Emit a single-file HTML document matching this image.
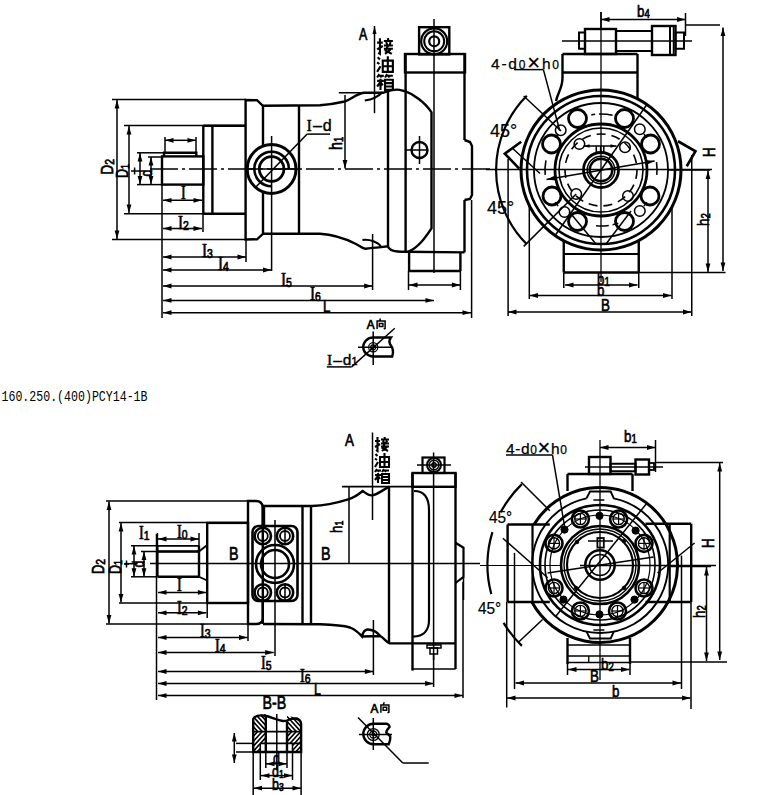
<!DOCTYPE html>
<html><head><meta charset="utf-8"><style>
html,body{margin:0;padding:0;background:#fff;}
svg{display:block;}
</style></head><body>
<svg width="764" height="795" viewBox="0 0 764 795" stroke="#000" stroke-linecap="butt" fill="none">
<line x1="112" y1="99.5" x2="246" y2="99.5" stroke-width="1.5"/>
<line x1="112" y1="239.5" x2="246" y2="239.5" stroke-width="1.5"/>
<line x1="117" y1="100" x2="117" y2="239" stroke-width="1.5"/>
<polygon points="117.0,100.0 119.4,108.5 114.6,108.5" stroke="none" fill="#000"/>
<polygon points="117.0,239.0 114.6,230.5 119.4,230.5" stroke="none" fill="#000"/>
<text x="0" y="0" transform="translate(113 174.5) rotate(-90) scale(0.78 1)" font-size="17.1" font-family="Liberation Sans" stroke="#000" stroke-width="0.7" fill="#000">D<tspan font-size="13.4" font-family="Liberation Sans" dy="1">2</tspan></text>
<line x1="124" y1="125.5" x2="245" y2="125.5" stroke-width="1.5"/>
<line x1="124" y1="213.8" x2="245" y2="213.8" stroke-width="1.5"/>
<line x1="129" y1="126" x2="129" y2="213" stroke-width="1.5"/>
<polygon points="129.0,126.0 131.4,134.5 126.6,134.5" stroke="none" fill="#000"/>
<polygon points="129.0,213.0 126.6,204.5 131.4,204.5" stroke="none" fill="#000"/>
<text x="0" y="0" transform="translate(128 178) rotate(-90) scale(0.78 1)" font-size="15.9" font-family="Liberation Sans" stroke="#000" stroke-width="0.7" fill="#000">D<tspan font-size="11.0" font-family="Liberation Sans" dy="1">1</tspan></text>
<line x1="137" y1="152.8" x2="165" y2="152.8" stroke-width="1.5"/>
<line x1="137" y1="184.6" x2="162" y2="184.6" stroke-width="1.5"/>
<line x1="148" y1="157" x2="162" y2="157" stroke-width="1.5"/>
<line x1="140" y1="153" x2="140" y2="184.6" stroke-width="1.5"/>
<polygon points="140.0,153.0 142.4,161.5 137.6,161.5" stroke="none" fill="#000"/>
<polygon points="140.0,184.6 137.6,176.1 142.4,176.1" stroke="none" fill="#000"/>
<line x1="151" y1="157" x2="151" y2="184.6" stroke-width="1.5"/>
<polygon points="151.0,157.0 153.4,165.5 148.6,165.5" stroke="none" fill="#000"/>
<polygon points="151.0,184.6 148.6,176.1 153.4,176.1" stroke="none" fill="#000"/>
<line x1="131" y1="171" x2="140" y2="171" stroke-width="1.5"/>
<line x1="134.6" y1="167.5" x2="134.6" y2="174.5" stroke-width="1.5"/>
<text x="0" y="0" transform="translate(152 176.5) rotate(-90) scale(0.78 1)" font-size="15.9" font-family="Liberation Sans" text-anchor="start" letter-spacing="0" stroke="#000" stroke-width="0.7" fill="#000">d</text>
<rect x="162" y="156.4" width="41.30000000000001" height="28.19999999999999" fill="none" stroke-width="2.4"/>
<path d="M164,156.4 L164,152.8 L196.3,152.8 L196.3,156.4" fill="none" stroke-width="2.4"/>
<line x1="165" y1="140.3" x2="196" y2="140.3" stroke-width="1.5"/>
<polygon points="165.0,140.3 173.5,137.9 173.5,142.7" stroke="none" fill="#000"/>
<polygon points="196.0,140.3 187.5,142.7 187.5,137.9" stroke="none" fill="#000"/>
<line x1="165" y1="137" x2="165" y2="152" stroke-width="1.5"/>
<line x1="196" y1="137" x2="196" y2="152" stroke-width="1.5"/>
<line x1="163" y1="200.3" x2="202" y2="200.3" stroke-width="1.5"/>
<polygon points="163.0,200.3 171.5,197.9 171.5,202.7" stroke="none" fill="#000"/>
<polygon points="202.0,200.3 193.5,202.7 193.5,197.9" stroke="none" fill="#000"/>
<text x="0" y="0" transform="translate(183.5 199) scale(0.78 1)" font-size="18.3" font-family="Liberation Serif" text-anchor="middle" letter-spacing="0" stroke="#000" stroke-width="0.7" fill="#000">I</text>
<line x1="203.3" y1="125.8" x2="203.3" y2="213.8" stroke-width="2.4"/>
<line x1="212.4" y1="125.8" x2="212.4" y2="213.8" stroke-width="2.4"/>
<line x1="203.3" y1="125.8" x2="245.6" y2="125.8" stroke-width="2.4"/>
<line x1="203.3" y1="213.8" x2="245.6" y2="213.8" stroke-width="2.4"/>
<line x1="163" y1="228.5" x2="202" y2="228.5" stroke-width="1.5"/>
<polygon points="163.0,228.5 171.5,226.1 171.5,230.9" stroke="none" fill="#000"/>
<polygon points="202.0,228.5 193.5,230.9 193.5,226.1" stroke="none" fill="#000"/>
<line x1="203" y1="214" x2="203" y2="232" stroke-width="1.5"/>
<text x="0" y="0" transform="translate(178 229) scale(0.78 1)" font-size="19.5" font-family="Liberation Serif" stroke="#000" stroke-width="0.7" fill="#000">I<tspan font-size="13.4" font-family="Liberation Sans" dy="1">2</tspan></text>
<line x1="162" y1="184.6" x2="162" y2="318" stroke-width="1.5"/>
<path d="M263,145 L263,106 L257,100.2 L245.6,100 L245.6,239.5 L257,239.3 L263,233.8 L263,193" fill="none" stroke-width="2.4"/>
<path d="M263,105.7 L320,105.3 C332,104.5 340,102.5 345,101.4 C352,99 356,94 364,92.8 L383,92.8 C388,91 392,89.6 397,89.6 C400,89.6 402,90.5 405,91.2 C413,94 425,102 431.5,112.4 L431.5,228.3 C425,238 418,248 408,251.8" fill="none" stroke-width="2.4"/>
<path d="M263,233.8 L320,233.8 C335,234.5 348,240 356,244 C360,246 363,248.7 365.5,248.7 C370,248 376,247.5 381.3,247.1 L387.5,246.3 C389,248 390,250 392.2,250.3 C396,251.5 400,251.8 405,251.8 L464.5,252.4" fill="none" stroke-width="2.4"/>
<line x1="299" y1="105.7" x2="299" y2="234" stroke-width="2.4"/>
<line x1="388" y1="90" x2="388" y2="247" stroke-width="2.4"/>
<circle cx="271.6" cy="169" r="24.4" fill="none" stroke-width="3"/>
<path d="M288.9,169 A17.3,17.3 0 1 0 271.6,186.3" fill="none" stroke-width="2.6"/>
<circle cx="271.6" cy="169" r="12.3" fill="none" stroke-width="2.8"/>
<line x1="245" y1="169" x2="300" y2="169" stroke-width="1.5"/>
<line x1="271.6" y1="136" x2="271.6" y2="271" stroke-width="1.5"/>
<line x1="254.9" y1="188" x2="307.2" y2="134.1" stroke-width="1.5"/>
<line x1="307.2" y1="134.1" x2="330" y2="134.1" stroke-width="1.5"/>
<text x="306.6" y="131.2" font-size="16" font-family="Liberation Serif" stroke="#000" stroke-width="0.4" fill="#000">I<tspan font-family="Liberation Sans" dx="1">–</tspan><tspan font-family="Liberation Sans" dx="1">d</tspan></text>
<line x1="150" y1="169" x2="490" y2="169" stroke-width="1.5" stroke-dasharray="28,4,3,4"/>
<line x1="345" y1="95" x2="345" y2="168.5" stroke-width="1.5"/>
<polygon points="345.0,168.5 342.6,160.0 347.4,160.0" stroke="none" fill="#000"/>
<line x1="338.8" y1="92.8" x2="383" y2="92.8" stroke-width="1.5"/>
<text x="0" y="0" transform="translate(342 150) rotate(-90) scale(0.78 1)" font-size="18.3" font-family="Liberation Sans" stroke="#000" stroke-width="0.7" fill="#000">h<tspan font-size="12.2" font-family="Liberation Sans" dy="1">1</tspan></text>
<line x1="374.5" y1="26" x2="374.5" y2="113.2" stroke-width="1.5"/>
<polygon points="374.5,26.0 376.5,34.0 372.5,34.0" stroke="none" fill="#000"/>
<text x="0" y="0" transform="translate(359 40) scale(0.78 1)" font-size="15.9" font-family="Liberation Sans" text-anchor="start" letter-spacing="0" stroke="#000" stroke-width="0.7" fill="#000">A</text>
<path d="M364.8,100.6 C372,99.5 378,97 382.8,92" fill="none" stroke-width="2"/>
<path d="M362.4,240 C370,239 378,242 381.3,247.1" fill="none" stroke-width="2"/>
<g transform="translate(376,37) scale(1.125)"><path d="M1,5 L6,5 M3.5,1 L3.5,15 L2,14 M1,11 L6,8 M10.5,1 L11,3 M7,3.5 L15,3.5 M9,4.5 L10,7 M13,4.5 L12,7 M7,7.5 L15,7.5 M7,10.5 L15,10.5 M10.5,8 L8.5,12 L14,15 M13,11 L8,15" fill="none" stroke-width="1.87"/></g>
<g transform="translate(376,55) scale(1.125)"><path d="M1.5,2 L3.5,4 M1,6.5 L3,8 M1,15 L4,10 M6,5 L15,5 L15,15 L6,15 Z M10.5,1 L10.5,15 M6,10 L15,10" fill="none" stroke-width="1.87"/></g>
<g transform="translate(376,73) scale(1.125)"><path d="M3,1 L1,4 M2,2.5 L7,2.5 M4,2.5 L5,4 M10,1 L8,4 M9,2.5 L15,2.5 M11,2.5 L12,4 M1,7 L7,7 M4,5 L4,15 M4,8 L1,12 M4,8 L6,11 M8,6 L15,6 L15,15 L8,15 Z M8,9 L15,9 M8,12 L15,12" fill="none" stroke-width="1.87"/></g>
<line x1="405.6" y1="54" x2="405.6" y2="251.8" stroke-width="2.4"/>
<line x1="464.5" y1="54" x2="464.5" y2="140" stroke-width="2.4"/>
<rect x="405" y="54" width="60" height="18.5" fill="none" stroke-width="2.4"/>
<rect x="419.1" y="27.2" width="30.19999999999999" height="27.2" fill="none" stroke-width="2.4"/>
<circle cx="434.2" cy="41.3" r="13" fill="none" stroke-width="2.2"/>
<circle cx="434.2" cy="41.3" r="10" fill="none" stroke-width="2.0"/>
<circle cx="434.2" cy="41.3" r="5" fill="none" stroke-width="2.2"/>
<line x1="434" y1="19" x2="434" y2="273" stroke-width="1.5"/>
<circle cx="419.5" cy="150" r="8" fill="none" stroke-width="2.4"/>
<line x1="405" y1="150" x2="428" y2="150" stroke-width="1.5"/>
<line x1="419.5" y1="136" x2="419.5" y2="164" stroke-width="1.5"/>
<path d="M464.5,140 L470,142 L472,146 L472,195 L470,199 L464.5,200" fill="none" stroke-width="2.4"/>
<line x1="464.5" y1="200" x2="464.5" y2="252.4" stroke-width="2.4"/>
<line x1="409.1" y1="271" x2="460.4" y2="271" stroke-width="2.4"/>
<line x1="460.4" y1="252.4" x2="460.4" y2="271" stroke-width="2.4"/>
<line x1="409.1" y1="252.4" x2="409.1" y2="271" stroke-width="2.4"/>
<line x1="163" y1="257" x2="246" y2="257" stroke-width="1.5"/>
<polygon points="163.0,257.0 171.5,254.6 171.5,259.4" stroke="none" fill="#000"/>
<polygon points="246.0,257.0 237.5,259.4 237.5,254.6" stroke="none" fill="#000"/>
<text x="0" y="0" transform="translate(202 257) scale(0.78 1)" font-size="19.5" font-family="Liberation Serif" stroke="#000" stroke-width="0.7" fill="#000">I<tspan font-size="13.4" font-family="Liberation Sans" dy="1">3</tspan></text>
<line x1="246" y1="240" x2="246" y2="262" stroke-width="1.5"/>
<line x1="163" y1="270" x2="271.5" y2="270" stroke-width="1.5"/>
<polygon points="163.0,270.0 171.5,267.6 171.5,272.4" stroke="none" fill="#000"/>
<polygon points="271.5,270.0 263.0,272.4 263.0,267.6" stroke="none" fill="#000"/>
<text x="0" y="0" transform="translate(218 270) scale(0.78 1)" font-size="19.5" font-family="Liberation Serif" stroke="#000" stroke-width="0.7" fill="#000">I<tspan font-size="13.4" font-family="Liberation Sans" dy="1">4</tspan></text>
<line x1="163" y1="286" x2="372.6" y2="286" stroke-width="1.5"/>
<polygon points="163.0,286.0 171.5,283.6 171.5,288.4" stroke="none" fill="#000"/>
<polygon points="372.6,286.0 364.1,288.4 364.1,283.6" stroke="none" fill="#000"/>
<text x="0" y="0" transform="translate(281 286) scale(0.78 1)" font-size="19.5" font-family="Liberation Serif" stroke="#000" stroke-width="0.7" fill="#000">I<tspan font-size="13.4" font-family="Liberation Sans" dy="1">5</tspan></text>
<line x1="372.6" y1="234" x2="372.6" y2="290" stroke-width="1.5"/>
<line x1="163" y1="300.4" x2="434" y2="300.4" stroke-width="1.5"/>
<polygon points="163.0,300.4 171.5,298.0 171.5,302.8" stroke="none" fill="#000"/>
<polygon points="434.0,300.4 425.5,302.8 425.5,298.0" stroke="none" fill="#000"/>
<text x="0" y="0" transform="translate(310 300) scale(0.78 1)" font-size="19.5" font-family="Liberation Serif" stroke="#000" stroke-width="0.7" fill="#000">I<tspan font-size="13.4" font-family="Liberation Sans" dy="1">6</tspan></text>
<line x1="163" y1="312.7" x2="471" y2="312.7" stroke-width="1.5"/>
<polygon points="163.0,312.7 171.5,310.3 171.5,315.1" stroke="none" fill="#000"/>
<polygon points="471.0,312.7 462.5,315.1 462.5,310.3" stroke="none" fill="#000"/>
<text x="0" y="0" transform="translate(323 312) scale(0.78 1)" font-size="17.1" font-family="Liberation Sans" text-anchor="start" letter-spacing="0" stroke="#000" stroke-width="0.7" fill="#000">L</text>
<line x1="471.6" y1="200" x2="471.6" y2="318" stroke-width="1.5"/>
<line x1="409" y1="285" x2="460.4" y2="285" stroke-width="1.5"/>
<polygon points="409.0,285.0 417.5,282.6 417.5,287.4" stroke="none" fill="#000"/>
<polygon points="460.4,285.0 451.9,287.4 451.9,282.6" stroke="none" fill="#000"/>
<line x1="408.5" y1="271" x2="408.5" y2="290" stroke-width="1.5"/>
<line x1="460.4" y1="271" x2="460.4" y2="290" stroke-width="1.5"/>
<path d="M562.5,54 L562.5,78 C562.5,88 558,92 556,101" fill="none" stroke-width="2.4"/>
<line x1="637.5" y1="54" x2="637.5" y2="99" stroke-width="2.4"/>
<line x1="562.5" y1="54" x2="637.5" y2="54" stroke-width="2.4"/>
<line x1="562.5" y1="72.5" x2="637.5" y2="72.5" stroke-width="2.4"/>
<rect x="585" y="29" width="31" height="25" fill="none" stroke-width="2.4"/>
<rect x="579" y="32.5" width="6" height="16.25" fill="none" stroke-width="2"/>
<rect x="616" y="31" width="36" height="20" fill="none" stroke-width="2"/>
<rect x="652" y="26" width="23.5" height="29" fill="none" stroke-width="2.4"/>
<line x1="670" y1="26" x2="670" y2="55" stroke-width="2"/>
<line x1="673.5" y1="26" x2="673.5" y2="55" stroke-width="1.5"/>
<rect x="675.5" y="32.5" width="8.5" height="16.25" fill="none" stroke-width="2"/>
<line x1="562" y1="41" x2="692" y2="41" stroke-width="1.5"/>
<line x1="601" y1="19.5" x2="685.5" y2="19.5" stroke-width="1.5"/>
<polygon points="601.0,19.5 609.5,17.1 609.5,21.9" stroke="none" fill="#000"/>
<polygon points="685.5,19.5 677.0,21.9 677.0,17.1" stroke="none" fill="#000"/>
<line x1="685.5" y1="13" x2="685.5" y2="36" stroke-width="1.5"/>
<line x1="601" y1="12" x2="601" y2="30" stroke-width="1.5"/>
<text x="0" y="0" transform="translate(637 17) scale(0.78 1)" font-size="17.1" font-family="Liberation Sans" stroke="#000" stroke-width="0.7" fill="#000">b<tspan font-size="12.2" font-family="Liberation Sans" dy="1">4</tspan></text>
<line x1="685" y1="25" x2="720" y2="25" stroke-width="1.5"/>
<line x1="723" y1="27.5" x2="723" y2="271" stroke-width="1.5"/>
<polygon points="723.0,27.5 725.4,36.0 720.6,36.0" stroke="none" fill="#000"/>
<polygon points="723.0,271.0 720.6,262.5 725.4,262.5" stroke="none" fill="#000"/>
<text x="0" y="0" transform="translate(715 157) rotate(-90) scale(0.78 1)" font-size="17.1" font-family="Liberation Sans" text-anchor="start" letter-spacing="0" stroke="#000" stroke-width="0.7" fill="#000">H</text>
<circle cx="601" cy="170" r="80" fill="none" stroke-width="3.0"/>
<circle cx="601" cy="170" r="74" fill="none" stroke-width="2.6"/>
<circle cx="601" cy="170" r="67" fill="none" stroke-width="1.8"/>
<path d="M612.6,115.2 A56,56 0 0 0 599.0,114.0" fill="none" stroke-width="1.6"/>
<path d="M595.1,114.3 A56,56 0 0 0 591.3,114.9" fill="none" stroke-width="1.6"/>
<path d="M545.9,160.3 A56,56 0 0 0 545.2,174.9" fill="none" stroke-width="1.6"/>
<path d="M656.8,174.9 A56,56 0 0 0 656.5,162.2" fill="none" stroke-width="1.6"/>
<path d="M596.1,225.8 A56,56 0 0 0 608.8,225.5" fill="none" stroke-width="1.6"/>
<path d="M612.6,224.8 A56,56 0 0 0 618.3,223.3" fill="none" stroke-width="1.6"/>
<path d="M646.9,137.9 A56,56 0 0 0 643.9,134.0" fill="none" stroke-width="1.6"/>
<path d="M558.1,134.0 A56,56 0 0 0 555.1,137.9" fill="none" stroke-width="1.6"/>
<path d="M555.1,202.1 A56,56 0 0 0 558.1,206.0" fill="none" stroke-width="1.6"/>
<path d="M643.9,206.0 A56,56 0 0 0 646.9,202.1" fill="none" stroke-width="1.6"/>
<circle cx="601" cy="170" r="46" fill="none" stroke-width="2.8"/>
<circle cx="601" cy="170" r="42" fill="none" stroke-width="1.6"/>
<circle cx="601" cy="170" r="36" fill="none" stroke-width="1.6" stroke-dasharray="9,6"/>
<circle cx="601" cy="170" r="17.5" fill="none" stroke-width="2.8"/>
<circle cx="601" cy="170" r="13.8" fill="none" stroke-width="1.5"/>
<circle cx="601" cy="170" r="11.3" fill="none" stroke-width="2.4"/>
<circle cx="577.5" cy="118.5" r="9" fill="none" stroke-width="2.8"/>
<circle cx="624.5" cy="118.5" r="9" fill="none" stroke-width="2.8"/>
<circle cx="551.5" cy="144" r="9" fill="none" stroke-width="2.8"/>
<circle cx="650.5" cy="144" r="9" fill="none" stroke-width="2.8"/>
<circle cx="552" cy="196" r="9" fill="none" stroke-width="2.8"/>
<circle cx="650" cy="196" r="9" fill="none" stroke-width="2.8"/>
<circle cx="577.5" cy="221.5" r="9" fill="none" stroke-width="2.8"/>
<circle cx="624.5" cy="221.5" r="9" fill="none" stroke-width="2.8"/>
<circle cx="560.7" cy="130.3" r="5.3" fill="none" stroke-width="1.5"/>
<circle cx="639.8" cy="129.2" r="5.3" fill="none" stroke-width="1.5"/>
<circle cx="579.4" cy="144" r="5.3" fill="none" stroke-width="1.5"/>
<circle cx="625" cy="147.3" r="5.3" fill="none" stroke-width="1.5"/>
<circle cx="576.2" cy="194" r="5.3" fill="none" stroke-width="1.5"/>
<circle cx="628" cy="196" r="5.3" fill="none" stroke-width="1.5"/>
<circle cx="564.5" cy="212" r="5.3" fill="none" stroke-width="1.5"/>
<circle cx="639.8" cy="211" r="5.3" fill="none" stroke-width="1.5"/>
<line x1="601" y1="12" x2="601" y2="282" stroke-width="1.3"/>
<line x1="486" y1="169.5" x2="712" y2="169.5" stroke-width="1.4"/>
<line x1="523.7" y1="246.4" x2="576.2" y2="194" stroke-width="1.5"/>
<line x1="555.1" y1="235.5" x2="646.9" y2="104.5" stroke-width="1.5"/>
<line x1="523.7" y1="96" x2="561" y2="131" stroke-width="1.5"/>
<line x1="513" y1="148.7" x2="540" y2="173.5" stroke-width="1.5"/>
<line x1="569" y1="211.5" x2="596" y2="244" stroke-width="1.5"/>
<line x1="631" y1="211" x2="606" y2="244" stroke-width="1.5"/>
<line x1="514" y1="69.6" x2="543.4" y2="69.6" stroke-width="1.5"/>
<line x1="543.4" y1="69.6" x2="559.7" y2="130.5" stroke-width="1.5"/>
<text x="0" y="0" transform="translate(491 68.5) scale(1.0 1)" font-size="15.5" font-family="Liberation Sans" stroke="#000" stroke-width="0.25" fill="#000" textLength="68" lengthAdjust="spacing">4-d<tspan font-size="12">0</tspan><tspan font-size="22" dy="1">×</tspan><tspan dy="-1">h</tspan><tspan font-size="12">0</tspan></text>
<line x1="546.5" y1="179.4" x2="654.6" y2="161" stroke-width="1.5"/>
<polygon points="546.5,179.4 555.0,175.4 555.8,180.5" stroke="none" fill="#000"/>
<polygon points="654.6,161.0 646.1,165.0 645.3,159.9" stroke="none" fill="#000"/>
<line x1="583.6" y1="146" x2="616.5" y2="146" stroke-width="1.5"/>
<polygon points="583.6,146.0 589.6,144.2 589.6,147.8" stroke="none" fill="#000"/>
<polygon points="616.5,146.0 610.5,147.8 610.5,144.2" stroke="none" fill="#000"/>
<line x1="596.3" y1="146" x2="596.3" y2="152" stroke-width="1.5"/>
<line x1="600.6" y1="146" x2="600.6" y2="152" stroke-width="1.5"/>
<line x1="603.8" y1="146" x2="603.8" y2="152" stroke-width="1.5"/>
<polyline points="521.2,141.8 504.8,153.6 519.2,168.6" fill="none" stroke-width="2.6"/>
<polyline points="678,141.25 695.5,151.25 686.75,166.25" fill="none" stroke-width="2.6"/>
<path d="M526.8,95.8 A105,105 0 0 0 526.8,244.2" fill="none" stroke-width="2.2"/>
<text x="0" y="0" transform="translate(490 137) scale(0.98 1)" font-size="18.3" font-family="Liberation Sans" text-anchor="start" letter-spacing="0" stroke="#000" stroke-width="0.2" fill="#000">45°</text>
<text x="0" y="0" transform="translate(487 213.5) scale(0.98 1)" font-size="18.3" font-family="Liberation Sans" text-anchor="start" letter-spacing="0" stroke="#000" stroke-width="0.2" fill="#000">45°</text>
<line x1="563.75" y1="240" x2="563.75" y2="272.5" stroke-width="2.4"/>
<line x1="638.75" y1="240" x2="638.75" y2="272.5" stroke-width="2.4"/>
<line x1="563.75" y1="254" x2="638.75" y2="254" stroke-width="1.8"/>
<line x1="563.75" y1="272.5" x2="638.75" y2="272.5" stroke-width="2.4"/>
<line x1="638.75" y1="272.5" x2="725.5" y2="272.5" stroke-width="1.5"/>
<line x1="668" y1="170" x2="710" y2="170" stroke-width="1.5"/>
<line x1="708" y1="170.5" x2="708" y2="272" stroke-width="1.5"/>
<polygon points="708.0,170.5 710.4,179.0 705.6,179.0" stroke="none" fill="#000"/>
<polygon points="708.0,272.0 705.6,263.5 710.4,263.5" stroke="none" fill="#000"/>
<text x="0" y="0" transform="translate(709 226) rotate(-90) scale(0.78 1)" font-size="17.1" font-family="Liberation Sans" stroke="#000" stroke-width="0.7" fill="#000">h<tspan font-size="12.2" font-family="Liberation Sans" dy="1">2</tspan></text>
<line x1="565" y1="285" x2="637.5" y2="285" stroke-width="1.5"/>
<polygon points="565.0,285.0 573.5,282.6 573.5,287.4" stroke="none" fill="#000"/>
<polygon points="637.5,285.0 629.0,287.4 629.0,282.6" stroke="none" fill="#000"/>
<line x1="563.75" y1="272.5" x2="563.75" y2="288" stroke-width="1.5"/>
<line x1="638.75" y1="272.5" x2="638.75" y2="288" stroke-width="1.5"/>
<text x="0" y="0" transform="translate(597 285) scale(0.78 1)" font-size="17.1" font-family="Liberation Sans" stroke="#000" stroke-width="0.7" fill="#000">b<tspan font-size="12.2" font-family="Liberation Sans" dy="1">1</tspan></text>
<line x1="529.5" y1="295.5" x2="671.5" y2="295.5" stroke-width="1.5"/>
<polygon points="529.5,295.5 538.0,293.1 538.0,297.9" stroke="none" fill="#000"/>
<polygon points="671.5,295.5 663.0,297.9 663.0,293.1" stroke="none" fill="#000"/>
<line x1="529.3" y1="205" x2="529.3" y2="299" stroke-width="1.5"/>
<line x1="672" y1="205" x2="672" y2="299" stroke-width="1.5"/>
<text x="0" y="0" transform="translate(597 296) scale(0.78 1)" font-size="17.1" font-family="Liberation Sans" text-anchor="start" letter-spacing="0" stroke="#000" stroke-width="0.7" fill="#000">b</text>
<line x1="508" y1="312" x2="691.5" y2="312" stroke-width="1.5"/>
<polygon points="508.0,312.0 516.5,309.6 516.5,314.4" stroke="none" fill="#000"/>
<polygon points="691.5,312.0 683.0,314.4 683.0,309.6" stroke="none" fill="#000"/>
<line x1="508.1" y1="159" x2="508.1" y2="316" stroke-width="1.5"/>
<line x1="691.75" y1="155" x2="691.75" y2="316" stroke-width="1.5"/>
<text x="0" y="0" transform="translate(601 311) scale(0.78 1)" font-size="17.1" font-family="Liberation Sans" text-anchor="start" letter-spacing="0" stroke="#000" stroke-width="0.7" fill="#000">B</text>
<text x="0" y="0" transform="translate(366.7 329) scale(0.9 1)" font-size="13.0" font-family="Liberation Sans" text-anchor="start" letter-spacing="0" stroke="#000" stroke-width="0.7" fill="#000">A</text>
<path d="M380.5,318.5 L379.5,320.7 M377.1,329.0 L377.1,321.1 L385.1,321.1 L385.1,328.5 L383.7,329.0 M379.3,323.5 L382.9,323.5 L382.9,326.5 L379.3,326.5 Z" fill="none" stroke-width="1.5"/>
<path d="M373.2,337.5 L390.9,337.5 C389,340 389,342 390,344 C393,348 394,352 392.2,356.5 L373.2,356.5 A10,9.5 0 0 1 373.2,337.5 Z" fill="none" stroke-width="2.4"/>
<circle cx="373.2" cy="347.3" r="4.6" fill="none" stroke-width="1.2"/>
<circle cx="373.2" cy="347.3" r="2.5" fill="none" stroke-width="1.2"/>
<line x1="358" y1="347.3" x2="391" y2="347.3" stroke-width="1.5"/>
<line x1="373.2" y1="331.5" x2="373.2" y2="365" stroke-width="1.5"/>
<line x1="394.8" y1="328.3" x2="351.6" y2="366.9" stroke-width="1.5"/>
<line x1="351.6" y1="366.9" x2="326.8" y2="366.9" stroke-width="1.5"/>
<text x="327" y="365" font-size="15.5" font-family="Liberation Serif" stroke="#000" stroke-width="0.4" fill="#000">I<tspan font-family="Liberation Sans" dx="1">–</tspan><tspan font-family="Liberation Sans" dx="1">d</tspan><tspan font-family="Liberation Sans" font-size="11">1</tspan></text>
<text x="1.5" y="401" font-size="15" font-family="Liberation Mono" textLength="146" lengthAdjust="spacingAndGlyphs" stroke="none" fill="#000">160.250.(400)PCY14-1B</text>
<line x1="106" y1="501" x2="248" y2="501" stroke-width="1.5"/>
<line x1="106" y1="624" x2="248" y2="624" stroke-width="1.5"/>
<line x1="109" y1="501.5" x2="109" y2="623.5" stroke-width="1.5"/>
<polygon points="109.0,501.5 111.4,510.0 106.6,510.0" stroke="none" fill="#000"/>
<polygon points="109.0,623.5 106.6,615.0 111.4,615.0" stroke="none" fill="#000"/>
<text x="0" y="0" transform="translate(103.5 574) rotate(-90) scale(0.78 1)" font-size="16.5" font-family="Liberation Sans" stroke="#000" stroke-width="0.7" fill="#000">D<tspan font-size="13.4" font-family="Liberation Sans" dy="1">2</tspan></text>
<line x1="119" y1="522.5" x2="248" y2="522.5" stroke-width="1.5"/>
<line x1="119" y1="603" x2="248" y2="603" stroke-width="1.5"/>
<line x1="121" y1="523" x2="121" y2="602.5" stroke-width="1.5"/>
<polygon points="121.0,523.0 123.4,531.5 118.6,531.5" stroke="none" fill="#000"/>
<polygon points="121.0,602.5 118.6,594.0 123.4,594.0" stroke="none" fill="#000"/>
<text x="0" y="0" transform="translate(121 574) rotate(-90) scale(0.78 1)" font-size="15.9" font-family="Liberation Sans" stroke="#000" stroke-width="0.7" fill="#000">D<tspan font-size="11.0" font-family="Liberation Sans" dy="1">1</tspan></text>
<line x1="131" y1="545.8" x2="199" y2="545.8" stroke-width="1.5"/>
<line x1="141" y1="551.5" x2="199" y2="551.5" stroke-width="1.5"/>
<line x1="131" y1="576.8" x2="157" y2="576.8" stroke-width="1.5"/>
<line x1="134" y1="546" x2="134" y2="576.8" stroke-width="1.5"/>
<polygon points="134.0,546.0 136.4,554.5 131.6,554.5" stroke="none" fill="#000"/>
<polygon points="134.0,576.8 131.6,568.3 136.4,568.3" stroke="none" fill="#000"/>
<line x1="144" y1="551.5" x2="144" y2="576.8" stroke-width="1.5"/>
<polygon points="144.0,551.5 146.4,560.0 141.6,560.0" stroke="none" fill="#000"/>
<polygon points="144.0,576.8 141.6,568.3 146.4,568.3" stroke="none" fill="#000"/>
<line x1="124" y1="564" x2="129" y2="564" stroke-width="1.5"/>
<line x1="126.5" y1="560.5" x2="126.5" y2="567.5" stroke-width="1.5"/>
<text x="0" y="0" transform="translate(143.8 567.5) rotate(-90) scale(0.78 1)" font-size="15.9" font-family="Liberation Sans" text-anchor="start" letter-spacing="0" stroke="#000" stroke-width="0.7" fill="#000">d</text>
<line x1="157.4" y1="545.8" x2="157.4" y2="576.8" stroke-width="2.4"/>
<line x1="157.4" y1="576.8" x2="199" y2="576.8" stroke-width="2.4"/>
<line x1="199" y1="545.8" x2="199" y2="576.8" stroke-width="2.4"/>
<line x1="157.4" y1="551.5" x2="199" y2="551.5" stroke-width="2.4"/>
<line x1="157.4" y1="545.8" x2="199" y2="545.8" stroke-width="1.6"/>
<polyline points="199,551.5 207.2,545" fill="none" stroke-width="1.8"/>
<polyline points="199,576.8 207.2,580.5" fill="none" stroke-width="1.8"/>
<line x1="150" y1="563.5" x2="480" y2="563.5" stroke-width="1.5"/>
<line x1="124.5" y1="563.7" x2="137.6" y2="563.7" stroke-width="1.5"/>
<rect x="207.2" y="522.9" width="40.80000000000001" height="80.10000000000002" fill="none" stroke-width="2.4"/>
<path d="M248,501 L256,501 Q262,501 262.8,507 L262.8,619 Q262,624 256,624 L248,624 Z" fill="none" stroke-width="2.4"/>
<line x1="158" y1="539" x2="199" y2="539" stroke-width="1.5"/>
<polygon points="158.0,539.0 166.5,536.6 166.5,541.4" stroke="none" fill="#000"/>
<polygon points="199.0,539.0 190.5,541.4 190.5,536.6" stroke="none" fill="#000"/>
<line x1="157.4" y1="533" x2="157.4" y2="546" stroke-width="1.5"/>
<line x1="199" y1="533" x2="199" y2="546" stroke-width="1.5"/>
<text x="0" y="0" transform="translate(177 538.4) scale(0.78 1)" font-size="18.3" font-family="Liberation Serif" stroke="#000" stroke-width="0.7" fill="#000">I<tspan font-size="13.4" font-family="Liberation Sans" dy="1">0</tspan></text>
<text x="0" y="0" transform="translate(139 539) scale(0.78 1)" font-size="18.3" font-family="Liberation Serif" stroke="#000" stroke-width="0.7" fill="#000">I<tspan font-size="13.4" font-family="Liberation Sans" dy="1">1</tspan></text>
<line x1="158" y1="592.4" x2="206.4" y2="592.4" stroke-width="1.5"/>
<polygon points="158.0,592.4 166.5,590.0 166.5,594.8" stroke="none" fill="#000"/>
<polygon points="206.4,592.4 197.9,594.8 197.9,590.0" stroke="none" fill="#000"/>
<text x="0" y="0" transform="translate(179.5 591) scale(0.78 1)" font-size="18.3" font-family="Liberation Serif" text-anchor="middle" letter-spacing="0" stroke="#000" stroke-width="0.7" fill="#000">I</text>
<line x1="158" y1="612.8" x2="206.4" y2="612.8" stroke-width="1.5"/>
<polygon points="158.0,612.8 166.5,610.4 166.5,615.2" stroke="none" fill="#000"/>
<polygon points="206.4,612.8 197.9,615.2 197.9,610.4" stroke="none" fill="#000"/>
<line x1="207.2" y1="603" x2="207.2" y2="618" stroke-width="1.5"/>
<text x="0" y="0" transform="translate(177 614.4) scale(0.78 1)" font-size="18.3" font-family="Liberation Serif" stroke="#000" stroke-width="0.7" fill="#000">I<tspan font-size="13.4" font-family="Liberation Sans" dy="1">2</tspan></text>
<line x1="156.5" y1="534" x2="156.5" y2="700" stroke-width="1.5"/>
<text x="0" y="0" transform="translate(229 560) scale(0.78 1)" font-size="18.3" font-family="Liberation Sans" text-anchor="start" letter-spacing="0" stroke="#000" stroke-width="0.7" fill="#000">B</text>
<text x="0" y="0" transform="translate(321 560) scale(0.78 1)" font-size="18.3" font-family="Liberation Sans" text-anchor="start" letter-spacing="0" stroke="#000" stroke-width="0.7" fill="#000">B</text>
<line x1="158" y1="637.5" x2="247.5" y2="637.5" stroke-width="1.5"/>
<polygon points="158.0,637.5 166.5,635.1 166.5,639.9" stroke="none" fill="#000"/>
<polygon points="247.5,637.5 239.0,639.9 239.0,635.1" stroke="none" fill="#000"/>
<line x1="248" y1="624" x2="248" y2="641" stroke-width="1.5"/>
<text x="0" y="0" transform="translate(200 637) scale(0.78 1)" font-size="18.3" font-family="Liberation Serif" stroke="#000" stroke-width="0.7" fill="#000">I<tspan font-size="13.4" font-family="Liberation Sans" dy="1">3</tspan></text>
<line x1="158" y1="652.5" x2="273.75" y2="652.5" stroke-width="1.5"/>
<polygon points="158.0,652.5 166.5,650.1 166.5,654.9" stroke="none" fill="#000"/>
<polygon points="273.8,652.5 265.2,654.9 265.2,650.1" stroke="none" fill="#000"/>
<text x="0" y="0" transform="translate(215 652) scale(0.78 1)" font-size="18.3" font-family="Liberation Serif" stroke="#000" stroke-width="0.7" fill="#000">I<tspan font-size="13.4" font-family="Liberation Sans" dy="1">4</tspan></text>
<line x1="158" y1="671.5" x2="373.4" y2="671.5" stroke-width="1.5"/>
<polygon points="158.0,671.5 166.5,669.1 166.5,673.9" stroke="none" fill="#000"/>
<polygon points="373.4,671.5 364.9,673.9 364.9,669.1" stroke="none" fill="#000"/>
<line x1="373.4" y1="620" x2="373.4" y2="675" stroke-width="1.5"/>
<text x="0" y="0" transform="translate(261 669) scale(0.78 1)" font-size="18.3" font-family="Liberation Serif" stroke="#000" stroke-width="0.7" fill="#000">I<tspan font-size="13.4" font-family="Liberation Sans" dy="1">5</tspan></text>
<line x1="158" y1="683.5" x2="433.6" y2="683.5" stroke-width="1.5"/>
<polygon points="158.0,683.5 166.5,681.1 166.5,685.9" stroke="none" fill="#000"/>
<polygon points="433.6,683.5 425.1,685.9 425.1,681.1" stroke="none" fill="#000"/>
<line x1="433.6" y1="654" x2="433.6" y2="687" stroke-width="1.5"/>
<text x="0" y="0" transform="translate(300 682) scale(0.78 1)" font-size="18.3" font-family="Liberation Serif" stroke="#000" stroke-width="0.7" fill="#000">I<tspan font-size="13.4" font-family="Liberation Sans" dy="1">6</tspan></text>
<line x1="158" y1="695.6" x2="463" y2="695.6" stroke-width="1.5"/>
<polygon points="158.0,695.6 166.5,693.2 166.5,698.0" stroke="none" fill="#000"/>
<polygon points="463.0,695.6 454.5,698.0 454.5,693.2" stroke="none" fill="#000"/>
<line x1="463" y1="582" x2="463" y2="698" stroke-width="1.5"/>
<text x="0" y="0" transform="translate(314 695) scale(0.78 1)" font-size="15.9" font-family="Liberation Sans" text-anchor="start" letter-spacing="0" stroke="#000" stroke-width="0.7" fill="#000">L</text>
<rect x="252.5" y="526" width="45" height="75" rx="6" fill="none" stroke-width="2.6"/>
<circle cx="262.8" cy="536" r="8.2" fill="none" stroke-width="2.6"/>
<circle cx="262.8" cy="536" r="5" fill="none" stroke-width="1.8"/>
<line x1="262.8" y1="528" x2="262.8" y2="544" stroke-width="1.5"/>
<circle cx="285" cy="536" r="8.2" fill="none" stroke-width="2.6"/>
<circle cx="285" cy="536" r="5" fill="none" stroke-width="1.8"/>
<line x1="285" y1="528" x2="285" y2="544" stroke-width="1.5"/>
<circle cx="262.8" cy="592.5" r="8.2" fill="none" stroke-width="2.6"/>
<circle cx="262.8" cy="592.5" r="5" fill="none" stroke-width="1.8"/>
<line x1="262.8" y1="584.5" x2="262.8" y2="600.5" stroke-width="1.5"/>
<circle cx="285" cy="592.5" r="8.2" fill="none" stroke-width="2.6"/>
<circle cx="285" cy="592.5" r="5" fill="none" stroke-width="1.8"/>
<line x1="285" y1="584.5" x2="285" y2="600.5" stroke-width="1.5"/>
<circle cx="275" cy="564" r="19" fill="none" stroke-width="2.6"/>
<circle cx="275" cy="564" r="14" fill="none" stroke-width="2.6"/>
<line x1="262.8" y1="506" x2="262.8" y2="526" stroke-width="2.4"/>
<line x1="262.8" y1="601" x2="262.8" y2="624" stroke-width="2.4"/>
<line x1="275" y1="520" x2="275" y2="656" stroke-width="1.5"/>
<line x1="264" y1="506" x2="264" y2="526" stroke-width="2.4"/>
<path d="M263,506 L312,506 C330,505.5 340,502 348.9,499.2 C354,497.5 359,494 362.7,491 C365,492.5 368,495.4 371.5,495.4 C377,495 382,490.5 389,486.6" fill="none" stroke-width="2.4"/>
<line x1="342" y1="486.6" x2="412.5" y2="486.6" stroke-width="1.8"/>
<line x1="302.5" y1="506" x2="302.5" y2="624" stroke-width="2.4"/>
<line x1="311" y1="506" x2="311" y2="624" stroke-width="2.4"/>
<line x1="389" y1="487" x2="389" y2="643.4" stroke-width="2.4"/>
<line x1="412.5" y1="473" x2="412.5" y2="670.6" stroke-width="2.4"/>
<line x1="455.5" y1="473" x2="455.5" y2="669" stroke-width="2.4"/>
<rect x="412.5" y="473" width="43.0" height="13.800000000000011" fill="none" stroke-width="2.4"/>
<path d="M414,491 C424,491 429,497 429,510 L429,620 C429,630 424,636.6 413,636.6" fill="none" stroke-width="2.2"/>
<rect x="422.5" y="457.5" width="22.0" height="15.5" fill="none" stroke-width="2.2"/>
<circle cx="434" cy="465" r="7" fill="none" stroke-width="2"/>
<circle cx="434" cy="465" r="4.8" fill="none" stroke-width="1.6"/>
<circle cx="434" cy="465" r="2.2" fill="none" stroke-width="1.4"/>
<line x1="417" y1="465" x2="451" y2="465" stroke-width="1.5"/>
<line x1="433.6" y1="452.5" x2="433.6" y2="660" stroke-width="1.5"/>
<path d="M455.5,542.7 L463.5,547.7 L463.5,576.9 L455.5,583" fill="none" stroke-width="2.2"/>
<line x1="463.5" y1="577" x2="463.5" y2="600" stroke-width="1.5"/>
<path d="M263,624 L320,624.3 C335,624.8 345,626 350,627.5 C355,629.5 359,633 362,636.5 C363,632 365,629.5 367.7,629.5 C372,629.5 377,632 380.3,636 L362,636.5 M380.3,636 C384,638 386,642 389.7,643.4 L455.5,643.4" fill="none" stroke-width="2.4"/>
<line x1="412.5" y1="669" x2="455.5" y2="669" stroke-width="1.5"/>
<rect x="427" y="645" width="14" height="3" fill="none" stroke-width="1.5"/>
<rect x="430" y="648" width="7.5" height="6" fill="none" stroke-width="1.5"/>
<line x1="349" y1="487" x2="349" y2="563.75" stroke-width="1.5"/>
<text x="0" y="0" transform="translate(342 533) rotate(-90) scale(0.78 1)" font-size="17.1" font-family="Liberation Sans" stroke="#000" stroke-width="0.7" fill="#000">h<tspan font-size="11.0" font-family="Liberation Sans" dy="1">1</tspan></text>
<line x1="372.5" y1="432.5" x2="372.5" y2="520" stroke-width="1.5"/>
<text x="0" y="0" transform="translate(345 446) scale(0.78 1)" font-size="17.1" font-family="Liberation Sans" text-anchor="start" letter-spacing="0" stroke="#000" stroke-width="0.7" fill="#000">A</text>
<g transform="translate(374,436) scale(1.0)"><path d="M1,5 L6,5 M3.5,1 L3.5,15 L2,14 M1,11 L6,8 M10.5,1 L11,3 M7,3.5 L15,3.5 M9,4.5 L10,7 M13,4.5 L12,7 M7,7.5 L15,7.5 M7,10.5 L15,10.5 M10.5,8 L8.5,12 L14,15 M13,11 L8,15" fill="none" stroke-width="2.10"/></g>
<g transform="translate(374,452) scale(1.0)"><path d="M1.5,2 L3.5,4 M1,6.5 L3,8 M1,15 L4,10 M6,5 L15,5 L15,15 L6,15 Z M10.5,1 L10.5,15 M6,10 L15,10" fill="none" stroke-width="2.10"/></g>
<g transform="translate(374,468) scale(1.0)"><path d="M3,1 L1,4 M2,2.5 L7,2.5 M4,2.5 L5,4 M10,1 L8,4 M9,2.5 L15,2.5 M11,2.5 L12,4 M1,7 L7,7 M4,5 L4,15 M4,8 L1,12 M4,8 L6,11 M8,6 L15,6 L15,15 L8,15 Z M8,9 L15,9 M8,12 L15,12" fill="none" stroke-width="2.10"/></g>
<text x="0" y="0" transform="translate(262.6 709) scale(0.78 1)" font-size="18.3" font-family="Liberation Sans" text-anchor="start" letter-spacing="0" stroke="#000" stroke-width="0.7" fill="#000">B-B</text>
<path d="M253.2,752 L253.2,719 C255,716 258,715 263,715.5 C270,716 276,720 283,721 C288,721.5 290,718 295,718.5 C299,719 301,721 301.1,724 L301.1,752 Z" fill="none" stroke-width="2.4"/>
<clipPath id="hl1"><polygon points="254,716 265.8,714 265.8,731.6 254,731.6"/></clipPath>
<clipPath id="hl2"><polygon points="254,731.6 265.8,731.6 265.8,743.4 260.3,743.4 260.3,752 254,752"/></clipPath>
<clipPath id="hr1"><polygon points="287,716 301,718 301,731.6 287,731.6"/></clipPath>
<clipPath id="hr2"><polygon points="287,731.6 301,731.6 301,752 292.5,752 292.5,743.4 287,743.4"/></clipPath>
<path d="M204.0,712 L244.0,756 M208.5,712 L248.5,756 M213.0,712 L253.0,756 M217.5,712 L257.5,756 M222.0,712 L262.0,756 M226.5,712 L266.5,756 M231.0,712 L271.0,756 M235.5,712 L275.5,756 M240.0,712 L280.0,756 M244.5,712 L284.5,756 M249.0,712 L289.0,756 M253.5,712 L293.5,756 M258.0,712 L298.0,756 M262.5,712 L302.5,756 M267.0,712 L307.0,756 M271.5,712 L311.5,756 M276.0,712 L316.0,756 M280.5,712 L320.5,756 " clip-path="url(#hl1)" stroke-width="1.6"/>
<path d="M244.0,712 L204.0,756 M248.5,712 L208.5,756 M253.0,712 L213.0,756 M257.5,712 L217.5,756 M262.0,712 L222.0,756 M266.5,712 L226.5,756 M271.0,712 L231.0,756 M275.5,712 L235.5,756 M280.0,712 L240.0,756 M284.5,712 L244.5,756 M289.0,712 L249.0,756 M293.5,712 L253.5,756 M298.0,712 L258.0,756 M302.5,712 L262.5,756 M307.0,712 L267.0,756 M311.5,712 L271.5,756 M316.0,712 L276.0,756 M320.5,712 L280.5,756 " clip-path="url(#hl2)" stroke-width="1.6"/>
<path d="M238.0,712 L278.0,756 M242.5,712 L282.5,756 M247.0,712 L287.0,756 M251.5,712 L291.5,756 M256.0,712 L296.0,756 M260.5,712 L300.5,756 M265.0,712 L305.0,756 M269.5,712 L309.5,756 M274.0,712 L314.0,756 M278.5,712 L318.5,756 M283.0,712 L323.0,756 M287.5,712 L327.5,756 M292.0,712 L332.0,756 M296.5,712 L336.5,756 M301.0,712 L341.0,756 M305.5,712 L345.5,756 M310.0,712 L350.0,756 M314.5,712 L354.5,756 " clip-path="url(#hr1)" stroke-width="1.6"/>
<path d="M278.0,712 L238.0,756 M282.5,712 L242.5,756 M287.0,712 L247.0,756 M291.5,712 L251.5,756 M296.0,712 L256.0,756 M300.5,712 L260.5,756 M305.0,712 L265.0,756 M309.5,712 L269.5,756 M314.0,712 L274.0,756 M318.5,712 L278.5,756 M323.0,712 L283.0,756 M327.5,712 L287.5,756 M332.0,712 L292.0,756 M336.5,712 L296.5,756 M341.0,712 L301.0,756 M345.5,712 L305.5,756 M350.0,712 L310.0,756 M354.5,712 L314.5,756 " clip-path="url(#hr2)" stroke-width="1.6"/>
<line x1="265.8" y1="717" x2="265.8" y2="752" stroke-width="2.4"/>
<line x1="287" y1="720" x2="287" y2="752" stroke-width="2.4"/>
<line x1="276.8" y1="714" x2="276.8" y2="770" stroke-width="1.5"/>
<line x1="253.2" y1="731.6" x2="301.1" y2="731.6" stroke-width="1.6"/>
<line x1="260.3" y1="743.4" x2="301.1" y2="743.4" stroke-width="1.8"/>
<line x1="236" y1="743.4" x2="253" y2="743.4" stroke-width="1.5"/>
<line x1="236" y1="752" x2="301" y2="752" stroke-width="1.5"/>
<line x1="234.3" y1="733" x2="234.3" y2="763" stroke-width="1.5"/>
<polygon points="234.3,733.0 236.7,741.5 231.9,741.5" stroke="none" fill="#000"/>
<polygon points="234.3,763.0 231.9,754.5 236.7,754.5" stroke="none" fill="#000"/>
<line x1="260.3" y1="744" x2="260.3" y2="780" stroke-width="1.5"/>
<line x1="292.5" y1="744" x2="292.5" y2="780" stroke-width="1.5"/>
<line x1="265.8" y1="752" x2="265.8" y2="768" stroke-width="1.5"/>
<line x1="287" y1="752" x2="287" y2="768" stroke-width="1.5"/>
<line x1="266" y1="763.8" x2="287" y2="763.8" stroke-width="1.5"/>
<polygon points="266.0,763.8 274.5,761.4 274.5,766.2" stroke="none" fill="#000"/>
<polygon points="287.0,763.8 278.5,766.2 278.5,761.4" stroke="none" fill="#000"/>
<text x="0" y="0" transform="translate(273 764) scale(0.78 1)" font-size="15.9" font-family="Liberation Sans" text-anchor="start" letter-spacing="0" stroke="#000" stroke-width="0.7" fill="#000">d</text>
<line x1="261" y1="775.6" x2="292.5" y2="775.6" stroke-width="1.5"/>
<polygon points="261.0,775.6 269.5,773.2 269.5,778.0" stroke="none" fill="#000"/>
<polygon points="292.5,775.6 284.0,778.0 284.0,773.2" stroke="none" fill="#000"/>
<text x="0" y="0" transform="translate(272 777) scale(0.78 1)" font-size="15.9" font-family="Liberation Sans" stroke="#000" stroke-width="0.7" fill="#000">d<tspan font-size="11.0" font-family="Liberation Sans" dy="1">1</tspan></text>
<line x1="253.5" y1="788.2" x2="301" y2="788.2" stroke-width="1.5"/>
<polygon points="253.5,788.2 262.0,785.8 262.0,790.6" stroke="none" fill="#000"/>
<polygon points="301.0,788.2 292.5,790.6 292.5,785.8" stroke="none" fill="#000"/>
<text x="0" y="0" transform="translate(272 790) scale(0.78 1)" font-size="15.9" font-family="Liberation Sans" stroke="#000" stroke-width="0.7" fill="#000">b<tspan font-size="11.0" font-family="Liberation Sans" dy="1">3</tspan></text>
<line x1="253.2" y1="752" x2="253.2" y2="795" stroke-width="1.5"/>
<line x1="301.1" y1="752" x2="301.1" y2="795" stroke-width="1.5"/>
<text x="0" y="0" transform="translate(370.6 712.8) scale(0.9 1)" font-size="13.0" font-family="Liberation Sans" text-anchor="start" letter-spacing="0" stroke="#000" stroke-width="0.7" fill="#000">A</text>
<path d="M384.3,702.3 L383.3,704.5 M380.90000000000003,712.8 L380.90000000000003,704.9 L388.90000000000003,704.9 L388.90000000000003,712.3 L387.5,712.8 M383.1,707.3 L386.7,707.3 L386.7,710.3 L383.1,710.3 Z" fill="none" stroke-width="1.5"/>
<path d="M373.3,723.8 L387,723.8 C388.5,724.5 390,726 389.5,727 C388,729 386,731 386.3,732.4 C387,734 390,735 390.3,737 C390.5,740 389.5,742 388.7,744.2 L373.3,744.2 A10,10.2 0 0 1 373.3,723.8 Z" fill="none" stroke-width="2.4"/>
<circle cx="373.3" cy="734.5" r="5.9" fill="none" stroke-width="1.3"/>
<circle cx="373.3" cy="734.5" r="3.5" fill="none" stroke-width="1.3"/>
<circle cx="373.3" cy="734.5" r="1.3" fill="#000" stroke-width="1.2"/>
<line x1="359" y1="734.5" x2="392" y2="734.5" stroke-width="1.5"/>
<line x1="373.3" y1="718" x2="373.3" y2="750" stroke-width="1.5"/>
<line x1="358" y1="717.5" x2="402.8" y2="763" stroke-width="1.5"/>
<line x1="402.8" y1="763" x2="428.7" y2="763" stroke-width="1.5"/>
<line x1="567.5" y1="474" x2="567.5" y2="491" stroke-width="2.4"/>
<line x1="632.5" y1="474" x2="632.5" y2="491" stroke-width="2.4"/>
<line x1="567.5" y1="474" x2="632.5" y2="474" stroke-width="2.4"/>
<rect x="589" y="457" width="21.5" height="17" fill="none" stroke-width="2.4"/>
<rect x="610.5" y="463.75" width="25.0" height="7.5" fill="none" stroke-width="2"/>
<rect x="635.5" y="459.5" width="13.5" height="15.0" fill="none" stroke-width="2.4"/>
<rect x="649" y="463" width="5" height="7" fill="none" stroke-width="1.8"/>
<line x1="585" y1="467" x2="663" y2="467" stroke-width="1.5"/>
<line x1="600" y1="447.5" x2="655.5" y2="447.5" stroke-width="1.5"/>
<polygon points="600.0,447.5 608.5,445.1 608.5,449.9" stroke="none" fill="#000"/>
<polygon points="655.5,447.5 647.0,449.9 647.0,445.1" stroke="none" fill="#000"/>
<line x1="655.5" y1="440" x2="655.5" y2="472" stroke-width="1.5"/>
<line x1="600" y1="440" x2="600" y2="680" stroke-width="1.3"/>
<text x="0" y="0" transform="translate(624 442) scale(0.78 1)" font-size="17.1" font-family="Liberation Sans" stroke="#000" stroke-width="0.7" fill="#000">b<tspan font-size="12.2" font-family="Liberation Sans" dy="1">1</tspan></text>
<line x1="655" y1="462.5" x2="723" y2="462.5" stroke-width="1.5"/>
<line x1="719.7" y1="463" x2="719.7" y2="660" stroke-width="1.5"/>
<polygon points="719.7,463.0 722.1,471.5 717.3,471.5" stroke="none" fill="#000"/>
<polygon points="719.7,660.0 717.3,651.5 722.1,651.5" stroke="none" fill="#000"/>
<text x="0" y="0" transform="translate(714 548) rotate(-90) scale(0.78 1)" font-size="17.1" font-family="Liberation Sans" text-anchor="start" letter-spacing="0" stroke="#000" stroke-width="0.7" fill="#000">H</text>
<line x1="694.6" y1="543" x2="657.5" y2="573" stroke-width="1.5"/>
<path d="M533.9,524.5 A77.5,77.5 0 1 1 531.9,602" fill="none" stroke-width="3.0"/>
<circle cx="600" cy="565" r="60" fill="none" stroke-width="2.6"/>
<circle cx="600" cy="565" r="55" fill="none" stroke-width="1.6"/>
<circle cx="600" cy="565" r="39" fill="none" stroke-width="2.6"/>
<circle cx="600" cy="565" r="36" fill="none" stroke-width="1.4"/>
<circle cx="600" cy="565" r="33" fill="none" stroke-width="2.2"/>
<circle cx="600" cy="565" r="14.7" fill="none" stroke-width="2.6"/>
<circle cx="600" cy="565" r="10.6" fill="none" stroke-width="1.5"/>
<circle cx="600" cy="565" r="50" fill="none" stroke-width="1.2"/>
<path d="M586.5,498.4 L590,491.5 L610.7,491.5 L613.8,498.4 A68,68 0 1 1 586.5,498.4" fill="none" stroke-width="1.9"/>
<path d="M586.5,631.6 L590,638.5 L610.7,638.5 L613.8,631.6" fill="none" stroke-width="1.9"/>
<line x1="593.4" y1="500" x2="604.4" y2="500" stroke-width="1.5"/>
<line x1="593.4" y1="630" x2="604.4" y2="630" stroke-width="1.5"/>
<rect x="597.4" y="538" width="6.399999999999977" height="9.600000000000023" fill="none" stroke-width="1.8"/>
<line x1="588" y1="541" x2="613" y2="541" stroke-width="1.5"/>
<circle cx="580.4" cy="519" r="8.5" fill="none" stroke-width="2.6"/>
<circle cx="580.4" cy="519" r="5.6" fill="none" stroke-width="1.4"/>
<line x1="574.4" y1="519" x2="586.4" y2="519" stroke-width="1.2"/>
<line x1="580.4" y1="513" x2="580.4" y2="525" stroke-width="1.2"/>
<circle cx="618.6" cy="519" r="8.5" fill="none" stroke-width="2.6"/>
<circle cx="618.6" cy="519" r="5.6" fill="none" stroke-width="1.4"/>
<line x1="612.6" y1="519" x2="624.6" y2="519" stroke-width="1.2"/>
<line x1="618.6" y1="513" x2="618.6" y2="525" stroke-width="1.2"/>
<circle cx="554" cy="543.4" r="8.5" fill="none" stroke-width="2.6"/>
<circle cx="554" cy="543.4" r="5.6" fill="none" stroke-width="1.4"/>
<line x1="548" y1="543.4" x2="560" y2="543.4" stroke-width="1.2"/>
<line x1="554" y1="537.4" x2="554" y2="549.4" stroke-width="1.2"/>
<circle cx="644" cy="543.4" r="8.5" fill="none" stroke-width="2.6"/>
<circle cx="644" cy="543.4" r="5.6" fill="none" stroke-width="1.4"/>
<line x1="638" y1="543.4" x2="650" y2="543.4" stroke-width="1.2"/>
<line x1="644" y1="537.4" x2="644" y2="549.4" stroke-width="1.2"/>
<circle cx="554" cy="588" r="8.5" fill="none" stroke-width="2.6"/>
<circle cx="554" cy="588" r="5.6" fill="none" stroke-width="1.4"/>
<line x1="548" y1="588" x2="560" y2="588" stroke-width="1.2"/>
<line x1="554" y1="582" x2="554" y2="594" stroke-width="1.2"/>
<circle cx="644" cy="588" r="8.5" fill="none" stroke-width="2.6"/>
<circle cx="644" cy="588" r="5.6" fill="none" stroke-width="1.4"/>
<line x1="638" y1="588" x2="650" y2="588" stroke-width="1.2"/>
<line x1="644" y1="582" x2="644" y2="594" stroke-width="1.2"/>
<circle cx="580.4" cy="611" r="8.5" fill="none" stroke-width="2.6"/>
<circle cx="580.4" cy="611" r="5.6" fill="none" stroke-width="1.4"/>
<line x1="574.4" y1="611" x2="586.4" y2="611" stroke-width="1.2"/>
<line x1="580.4" y1="605" x2="580.4" y2="617" stroke-width="1.2"/>
<circle cx="617.5" cy="611" r="8.5" fill="none" stroke-width="2.6"/>
<circle cx="617.5" cy="611" r="5.6" fill="none" stroke-width="1.4"/>
<line x1="611.5" y1="611" x2="623.5" y2="611" stroke-width="1.2"/>
<line x1="617.5" y1="605" x2="617.5" y2="617" stroke-width="1.2"/>
<circle cx="599.5" cy="515.8" r="3.6" fill="#000" stroke-width="1"/>
<circle cx="564.5" cy="529.6" r="3.6" fill="#000" stroke-width="1"/>
<circle cx="635.6" cy="530.6" r="3.6" fill="#000" stroke-width="1"/>
<circle cx="563.5" cy="599.6" r="3.6" fill="#000" stroke-width="1"/>
<circle cx="634.5" cy="599.6" r="3.6" fill="#000" stroke-width="1"/>
<circle cx="599.5" cy="614.4" r="3.6" fill="#000" stroke-width="1"/>
<circle cx="577" cy="542" r="1.8" fill="#000" stroke-width="1"/>
<circle cx="624" cy="541" r="1.8" fill="#000" stroke-width="1"/>
<circle cx="576" cy="588" r="1.8" fill="#000" stroke-width="1"/>
<circle cx="624" cy="588" r="1.8" fill="#000" stroke-width="1"/>
<line x1="507.6" y1="524.5" x2="549.8" y2="524.5" stroke-width="2.4"/>
<line x1="507.6" y1="602" x2="549.8" y2="602" stroke-width="2.4"/>
<line x1="507.6" y1="524.5" x2="507.6" y2="602" stroke-width="2.4"/>
<line x1="532.5" y1="524.5" x2="532.5" y2="602" stroke-width="2.2"/>
<line x1="645.5" y1="523.8" x2="691.2" y2="523.8" stroke-width="2.4"/>
<line x1="645.5" y1="602" x2="691.2" y2="602" stroke-width="2.4"/>
<line x1="691.2" y1="523.8" x2="691.2" y2="602" stroke-width="2.4"/>
<line x1="669.7" y1="523.8" x2="669.7" y2="602" stroke-width="2.2"/>
<line x1="580" y1="565.5" x2="716" y2="565.5" stroke-width="1.3"/>
<line x1="480" y1="565.5" x2="560" y2="565.5" stroke-width="1.0"/>
<line x1="670" y1="566.4" x2="711" y2="566.4" stroke-width="1.5"/>
<line x1="706.5" y1="567" x2="706.5" y2="661" stroke-width="1.5"/>
<polygon points="706.5,567.0 708.9,575.5 704.1,575.5" stroke="none" fill="#000"/>
<polygon points="706.5,661.0 704.1,652.5 708.9,652.5" stroke="none" fill="#000"/>
<text x="0" y="0" transform="translate(705 618) rotate(-90) scale(0.78 1)" font-size="17.1" font-family="Liberation Sans" stroke="#000" stroke-width="0.7" fill="#000">h<tspan font-size="12.2" font-family="Liberation Sans" dy="1">2</tspan></text>
<line x1="630" y1="662" x2="727" y2="662" stroke-width="1.5"/>
<line x1="567.5" y1="638" x2="567.5" y2="664" stroke-width="2.4"/>
<line x1="630" y1="638" x2="630" y2="664" stroke-width="2.4"/>
<line x1="567.5" y1="645" x2="630" y2="645" stroke-width="1.5"/>
<line x1="567.5" y1="656" x2="630" y2="656" stroke-width="1.5"/>
<line x1="567.5" y1="662.5" x2="630" y2="662.5" stroke-width="1.5"/>
<line x1="588.75" y1="656" x2="588.75" y2="662.5" stroke-width="1.3"/>
<line x1="568" y1="669.5" x2="629.5" y2="669.5" stroke-width="1.5"/>
<polygon points="568.0,669.5 576.5,667.1 576.5,671.9" stroke="none" fill="#000"/>
<polygon points="629.5,669.5 621.0,671.9 621.0,667.1" stroke="none" fill="#000"/>
<line x1="567.5" y1="662" x2="567.5" y2="675" stroke-width="1.5"/>
<line x1="630" y1="662" x2="630" y2="675" stroke-width="1.5"/>
<text x="0" y="0" transform="translate(601 670) scale(0.78 1)" font-size="17.1" font-family="Liberation Sans" stroke="#000" stroke-width="0.7" fill="#000">b<tspan font-size="12.2" font-family="Liberation Sans" dy="1">2</tspan></text>
<line x1="515.5" y1="683" x2="681" y2="683" stroke-width="1.5"/>
<polygon points="515.5,683.0 524.0,680.6 524.0,685.4" stroke="none" fill="#000"/>
<polygon points="681.0,683.0 672.5,685.4 672.5,680.6" stroke="none" fill="#000"/>
<line x1="514.5" y1="552.9" x2="514.5" y2="689" stroke-width="1.5"/>
<line x1="681.5" y1="555.6" x2="681.5" y2="689" stroke-width="1.5"/>
<text x="0" y="0" transform="translate(590 682) scale(0.78 1)" font-size="17.1" font-family="Liberation Sans" text-anchor="start" letter-spacing="0" stroke="#000" stroke-width="0.7" fill="#000">B</text>
<line x1="507" y1="698" x2="690.5" y2="698" stroke-width="1.5"/>
<polygon points="507.0,698.0 515.5,695.6 515.5,700.4" stroke="none" fill="#000"/>
<polygon points="690.5,698.0 682.0,700.4 682.0,695.6" stroke="none" fill="#000"/>
<line x1="506.7" y1="602" x2="506.7" y2="707.5" stroke-width="1.5"/>
<line x1="691" y1="602" x2="691" y2="709" stroke-width="1.5"/>
<text x="0" y="0" transform="translate(612 697) scale(0.78 1)" font-size="17.1" font-family="Liberation Sans" text-anchor="start" letter-spacing="0" stroke="#000" stroke-width="0.7" fill="#000">b</text>
<path d="M521.9,484.1 A112.5,112.5 0 0 0 500.7,512.2" fill="none" stroke-width="2.2"/>
<path d="M492.4,532.1 A112.5,112.5 0 0 0 491.3,594.1" fill="none" stroke-width="2.2"/>
<path d="M503.6,622.9 A112.5,112.5 0 0 0 521.9,645.9" fill="none" stroke-width="2.2"/>
<line x1="521" y1="482" x2="549.8" y2="510.7" stroke-width="1.5"/>
<line x1="518.7" y1="642" x2="542.6" y2="619.5" stroke-width="1.5"/>
<line x1="502.8" y1="538.3" x2="547.7" y2="577.7" stroke-width="1.5"/>
<text x="0" y="0" transform="translate(489 522.6) scale(0.9 1)" font-size="17.1" font-family="Liberation Sans" text-anchor="start" letter-spacing="0" stroke="#000" stroke-width="0.2" fill="#000">45°</text>
<text x="0" y="0" transform="translate(478 613.5) scale(0.9 1)" font-size="17.1" font-family="Liberation Sans" text-anchor="start" letter-spacing="0" stroke="#000" stroke-width="0.2" fill="#000">45°</text>
<line x1="506" y1="455" x2="552.5" y2="455" stroke-width="1.5"/>
<line x1="552.5" y1="455" x2="565" y2="529" stroke-width="1.5"/>
<text x="0" y="0" transform="translate(506 453.5) scale(1.0 1)" font-size="15.5" font-family="Liberation Sans" stroke="#000" stroke-width="0.25" fill="#000" textLength="61" lengthAdjust="spacing">4-d<tspan font-size="12">0</tspan><tspan font-size="22" dy="1">×</tspan><tspan dy="-1">h</tspan><tspan font-size="12">0</tspan></text>
<line x1="556" y1="616" x2="647" y2="503" stroke-width="1.5"/>
<line x1="547.6" y1="573" x2="653.6" y2="557" stroke-width="1.5"/>
</svg>
</body></html>
